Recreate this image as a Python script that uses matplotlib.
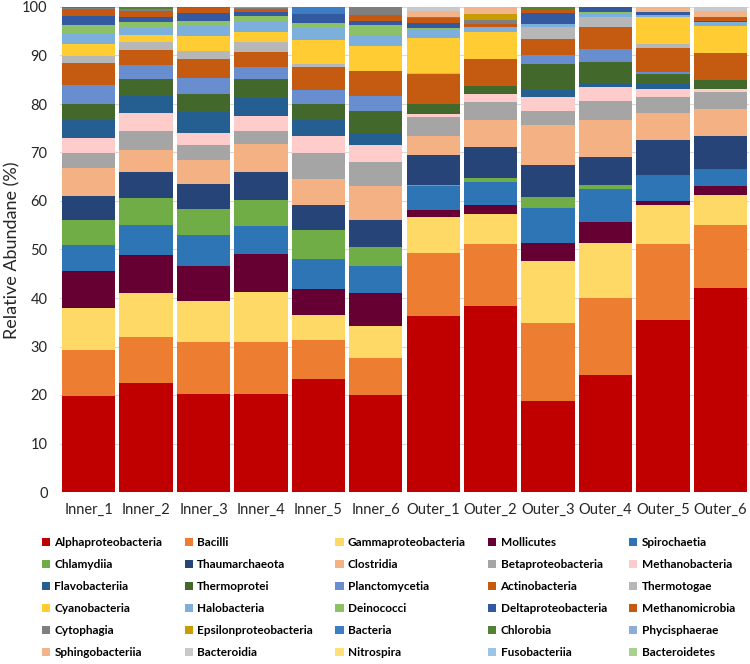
import numpy as np
import matplotlib
matplotlib.use("Agg")
import matplotlib.pyplot as plt
from matplotlib.patches import Patch

plt.rcParams['font.family'] = ['Lato', 'DejaVu Sans']

# =========================
# data (% per sample)
# =========================
samples = ["Inner_1", "Inner_2", "Inner_3", "Inner_4", "Inner_5", "Inner_6",
           "Outer_1", "Outer_2", "Outer_3", "Outer_4", "Outer_5", "Outer_6"]

taxa = ["Alphaproteobacteria", "Bacilli", "Gammaproteobacteria", "Mollicutes", "Spirochaetia",
        "Chlamydiia", "Thaumarchaeota", "Clostridia", "Betaproteobacteria", "Methanobacteria",
        "Flavobacteriia", "Thermoprotei", "Planctomycetia", "Actinobacteria", "Thermotogae",
        "Cyanobacteria", "Halobacteria", "Deinococci", "Deltaproteobacteria", "Methanomicrobia",
        "Cytophagia", "Epsilonproteobacteria", "Bacteria", "Chlorobia", "Phycisphaerae",
        "Sphingobacteriia", "Bacteroidia", "Nitrospira", "Fusobacteriia", "Bacteroidetes"]

inner_1 = [19.8, 9.5, 8.7, 7.5, 5.5, 5.1, 4.9, 5.9, 3.0, 3.1, 3.6, 3.3, 4.1, 4.4, 1.4,
           2.6, 2.2, 1.6, 2.0, 1.4, 0.2, 0.0, 0.0, 0.1, 0.0, 0.1, 0.0, 0.0, 0.0, 0.0]
inner_2 = [22.5, 9.5, 9.0, 7.9, 6.1, 5.6, 5.4, 4.6, 3.8, 3.7, 3.5, 3.5, 3.0, 3.1, 1.5,
           1.5, 1.4, 1.4, 1.0, 1.1, 0.4, 0.0, 0.0, 0.5, 0.0, 0.0, 0.0, 0.0, 0.0, 0.0]
inner_3 = [20.3, 10.6, 8.4, 7.3, 6.3, 5.5, 5.2, 4.9, 3.0, 2.6, 4.2, 3.8, 3.3, 3.9, 1.7,
           3.1, 1.9, 1.1, 1.6, 1.1, 0.0, 0.0, 0.0, 0.2, 0.0, 0.0, 0.0, 0.0, 0.0, 0.0]
inner_4 = [20.2, 10.7, 10.3, 7.9, 5.7, 5.5, 5.7, 5.8, 2.7, 3.0, 3.7, 3.9, 2.5, 3.2, 1.9,
           2.1, 2.4, 1.0, 0.7, 0.7, 0.2, 0.2, 0.0, 0.0, 0.0, 0.0, 0.0, 0.0, 0.0, 0.0]
inner_5 = [23.2, 8.2, 5.0, 5.4, 6.2, 6.1, 5.1, 5.4, 5.3, 3.4, 3.3, 3.3, 3.0, 4.8, 0.6,
           4.8, 2.5, 1.2, 1.8, 0.2, 0.0, 0.0, 1.2, 0.0, 0.0, 0.0, 0.0, 0.0, 0.0, 0.0]
inner_6 = [19.9, 7.7, 6.6, 6.9, 5.6, 3.8, 5.6, 7.0, 4.9, 3.5, 2.6, 4.4, 3.1, 5.3, 0.0,
           5.0, 2.3, 2.0, 1.0, 1.2, 1.6, 0.0, 0.0, 0.0, 0.0, 0.0, 0.0, 0.0, 0.0, 0.0]
outer_1 = [36.2, 13.1, 7.4, 1.4, 5.0, 0.1, 6.3, 4.0, 3.9, 0.6, 0.1, 1.8, 0.1, 6.2, 0.1,
           7.3, 1.9, 0.1, 1.1, 1.1, 0.1, 0.0, 0.0, 0.0, 0.0, 1.2, 0.9, 0.0, 0.0, 0.0]
outer_2 = [38.3, 12.9, 6.2, 1.7, 4.8, 0.8, 6.4, 5.7, 3.6, 1.7, 0.0, 1.7, 0.0, 5.5, 0.0,
           5.5, 1.0, 0.0, 0.0, 0.7, 0.9, 1.1, 0.0, 0.0, 0.0, 1.5, 0.0, 0.0, 0.0, 0.0]
outer_3 = [18.7, 16.1, 12.8, 3.8, 7.2, 2.2, 6.7, 8.1, 2.9, 2.9, 1.5, 5.4, 1.7, 3.4, 2.4,
           0.0, 0.7, 0.0, 2.2, 0.7, 0.0, 0.0, 0.0, 0.6, 0.0, 0.0, 0.0, 0.0, 0.0, 0.0]
outer_4 = [24.1, 15.8, 11.5, 4.2, 6.9, 0.9, 5.6, 7.8, 3.9, 2.8, 0.7, 4.4, 2.8, 4.4, 2.1,
           0.0, 0.8, 0.2, 1.1, 0.0, 0.0, 0.0, 0.0, 0.0, 0.0, 0.0, 0.0, 0.0, 0.0, 0.0]
outer_5 = [35.5, 15.7, 7.9, 1.0, 5.3, 0.0, 7.2, 5.5, 3.3, 1.7, 1.1, 2.0, 0.3, 5.0, 0.9,
           5.5, 0.5, 0.0, 0.5, 0.0, 0.0, 0.0, 0.0, 0.0, 0.0, 1.1, 0.0, 0.0, 0.0, 0.0]
outer_6 = [42.0, 13.0, 6.2, 1.8, 3.7, 0.0, 6.8, 5.4, 3.5, 0.7, 0.0, 1.8, 0.0, 5.6, 0.0,
           5.5, 0.9, 0.0, 0.2, 0.8, 0.0, 0.0, 0.0, 0.0, 0.0, 1.2, 0.9, 0.0, 0.0, 0.0]

colors = ["#C00000", "#ED7D31", "#FFD966", "#660033", "#2E75B6",
          "#70AD47", "#264478", "#F4B183", "#A5A5A5", "#FFCCCC",
          "#255E91", "#43682B", "#698ED0", "#C55A11", "#B7B7B7",
          "#FFCD33", "#7DAFDD", "#8CC168", "#335AA1", "#C65911",
          "#7F7F7F", "#C99C00", "#3C7DC4", "#548235", "#8FAADC",
          "#F3B48A", "#C9C9C9", "#FFE07A", "#9DC3E6", "#A9D18E"]

values = np.array([inner_1, inner_2, inner_3, inner_4, inner_5, inner_6,
                   outer_1, outer_2, outer_3, outer_4, outer_5, outer_6]).T

# =========================
# stacked bars
# =========================
fig = plt.figure(figsize=(7.5, 6.64), dpi=100)
ax = fig.add_axes([60 / 750, 172 / 664, 689 / 750, 485 / 664])

x = np.arange(len(samples))
bottom = np.zeros(len(samples))
for name, vals, col in zip(taxa, values, colors):
    ax.bar(x, vals, width=0.93, bottom=bottom, color=col, linewidth=0, label=name)
    bottom += vals

ax.set_xlim(-0.5, len(samples) - 0.5)
ax.set_ylim(0, 100)
ax.set_yticks(range(0, 101, 10))
ax.set_xticks(x)
ax.set_xticklabels(samples)
ax.tick_params(axis="both", length=0, labelsize=10.5, colors="#262626")
ax.tick_params(axis="y", pad=9)
ax.tick_params(axis="x", pad=8)
ax.yaxis.grid(True, color="#D9D9D9", linewidth=0.8)
ax.set_axisbelow(True)
for s in ax.spines.values():
    s.set_visible(False)

fig.text(12 / 750, 1 - 250 / 664, "Relative Abundane (%)", rotation=90,
         ha="center", va="center", fontsize=13, color="#262626")

# =========================
# legend, row-major like the original
# =========================
handles = [Patch(facecolor=c, edgecolor="none") for c in colors]
order = [r * 5 + c for c in range(5) for r in range(6)]
fig.legend([handles[i] for i in order], [taxa[i] for i in order],
           ncol=5, loc="upper left", bbox_to_anchor=(36 / 750, 1 - 531 / 664),
           frameon=False, borderpad=0, handlelength=0.7, handleheight=0.7,
           handletextpad=0.35, columnspacing=1.9, labelspacing=0.93,
           prop={"weight": "bold", "size": 8.5})

fig.savefig("out.png", dpi=100)
